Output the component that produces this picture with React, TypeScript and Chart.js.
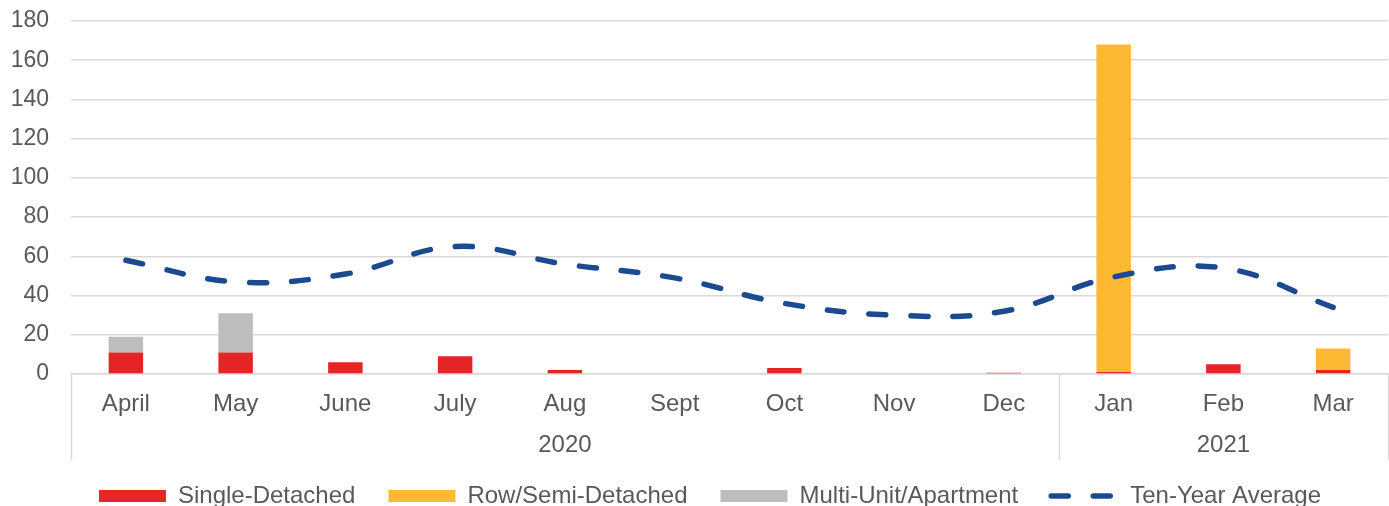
import { useEffect, useRef } from 'react';
import { Chart, registerables } from 'chart.js';

Chart.register(...registerables);

const months = ['April', 'May', 'June', 'July', 'Aug', 'Sept', 'Oct', 'Nov', 'Dec', 'Jan', 'Feb', 'Mar'];
const years = ['2020', '2021'];
const yearMonthCounts = [9, 3];

const singleDetached = [11, 11, 6, 9, 2, 0, 3, 0, 0.7, 1, 5, 2];
const rowSemiDetached = [0, 0, 0, 0, 0, 0, 0, 0, 0, 167, 0, 11];
const multiUnit = [8, 20, 0, 0, 0, 0, 0, 0, 0, 0, 0, 0];
const tenYearAverage = [58, 47, 51, 65, 56, 49, 36, 30, 32, 49.5, 54, 34];

const yMin = 0;
const yMax = 180;
const yStep = 20;

const FONT = "'Liberation Sans', Arial, sans-serif";
const TEXT = '#595959';
const GRID = '#d9d9d9';
const LINE_DASH = [17, 25];

const groupAxisPlugin = {
  id: 'groupAxis',
  afterLayout(chart: any) {
    const lg = chart.legend;
    if (lg) {
      lg.left += 16;
      lg.right += 16;
    }
  },
  afterDraw(chart: any) {
    const { ctx, chartArea, scales } = chart;
    const x = scales.x;
    const top = chartArea.bottom;
    const bottom = top + 86;
    const boundaries: number[] = [x.left];
    let idx = 0;
    yearMonthCounts.forEach((count, i) => {
      idx += count;
      if (i < yearMonthCounts.length - 1) {
        boundaries.push((x.getPixelForValue(idx - 1) + x.getPixelForValue(idx)) / 2);
      }
    });
    boundaries.push(x.right);
    ctx.save();
    ctx.strokeStyle = GRID;
    ctx.lineWidth = 1.5;
    boundaries.forEach((bx) => {
      ctx.beginPath();
      ctx.moveTo(Math.round(bx) + 0.5, top);
      ctx.lineTo(Math.round(bx) + 0.5, bottom);
      ctx.stroke();
    });
    ctx.fillStyle = TEXT;
    ctx.font = `24px ${FONT}`;
    ctx.textAlign = 'center';
    ctx.textBaseline = 'middle';
    years.forEach((label, i) => {
      const cx = (boundaries[i] + boundaries[i + 1]) / 2;
      ctx.fillText(label, cx, top + 71);
    });
    ctx.restore();
  },
};

export default function App() {
  const canvasRef = useRef<HTMLCanvasElement>(null);

  useEffect(() => {
    if (!canvasRef.current) return;
    const defaultGen = (Chart as any).defaults.plugins.legend.labels.generateLabels;
    const chart = new Chart(canvasRef.current, {
      type: 'bar',
      data: {
        labels: months,
        datasets: [
          {
            type: 'bar',
            label: 'Single-Detached',
            data: singleDetached,
            backgroundColor: '#E32526',
            borderWidth: 0,
            pointStyle: 'rect',
            stack: 'bars',
            order: 1,
          },
          {
            type: 'bar',
            label: 'Row/Semi-Detached',
            data: rowSemiDetached,
            backgroundColor: '#FDB933',
            borderWidth: 0,
            pointStyle: 'rect',
            stack: 'bars',
            order: 1,
          },
          {
            type: 'bar',
            label: 'Multi-Unit/Apartment',
            data: multiUnit,
            backgroundColor: '#BDBDBD',
            borderWidth: 0,
            pointStyle: 'rect',
            stack: 'bars',
            order: 1,
          },
          {
            type: 'line',
            label: 'Ten-Year Average',
            data: tenYearAverage,
            borderColor: '#1B4A8F',
            backgroundColor: '#1B4A8F',
            borderWidth: 5.5,
            borderDash: LINE_DASH,
            borderCapStyle: 'round',
            tension: 0.4,
            pointRadius: 0,
            pointStyle: 'line',
            stack: 'line',
            order: 0,
          } as any,
        ],
      },
      options: {
        responsive: false,
        animation: false,
        layout: { padding: { top: 21, left: 0, right: 1, bottom: 0 } },
        datasets: {
          bar: { categoryPercentage: 1, barPercentage: 0.314 },
        },
        plugins: {
          tooltip: { enabled: false },
          legend: {
            position: 'bottom',
            labels: {
              sort: (a: any, b: any) => a.datasetIndex - b.datasetIndex,
              generateLabels: (c: any) =>
                defaultGen(c).map((item: any) =>
                  item.pointStyle === 'line'
                    ? { ...item, lineDash: LINE_DASH, lineCap: 'round', lineWidth: 5.5 }
                    : { ...item, lineWidth: 0 }
                ),
              usePointStyle: true,
              pointStyleWidth: 67,
              boxWidth: 67,
              boxHeight: 12,
              padding: 33,
              color: TEXT,
              font: { family: FONT, size: 24 },
            },
          },
        },
        scales: {
          x: {
            stacked: true,
            grid: { display: false, offset: true },
            border: { display: true, color: GRID, width: 1.5 },
            ticks: { color: TEXT, font: { family: FONT, size: 24 }, padding: 8, maxRotation: 0, autoSkip: false },
            afterFit: (scale: any) => {
              scale.height = 77;
            },
          },
          y: {
            stacked: true,
            min: yMin,
            max: yMax,
            ticks: { stepSize: yStep, color: TEXT, font: { family: FONT, size: 23 }, padding: 22 },
            grid: { color: GRID, lineWidth: 1.5, drawTicks: false },
            border: { display: false },
            afterFit: (scale: any) => {
              scale.width = 71;
              scale.paddingTop = 0;
              scale.paddingBottom = 0;
            },
          },
        },
      },
      plugins: [groupAxisPlugin],
    });
    return () => chart.destroy();
  }, []);

  return (
    <div style={{ position: 'fixed', left: 0, top: 0, width: 1389, height: 506, overflow: 'hidden', background: '#fff' }}>
      <canvas ref={canvasRef} width={1389} height={518} />
    </div>
  );
}
